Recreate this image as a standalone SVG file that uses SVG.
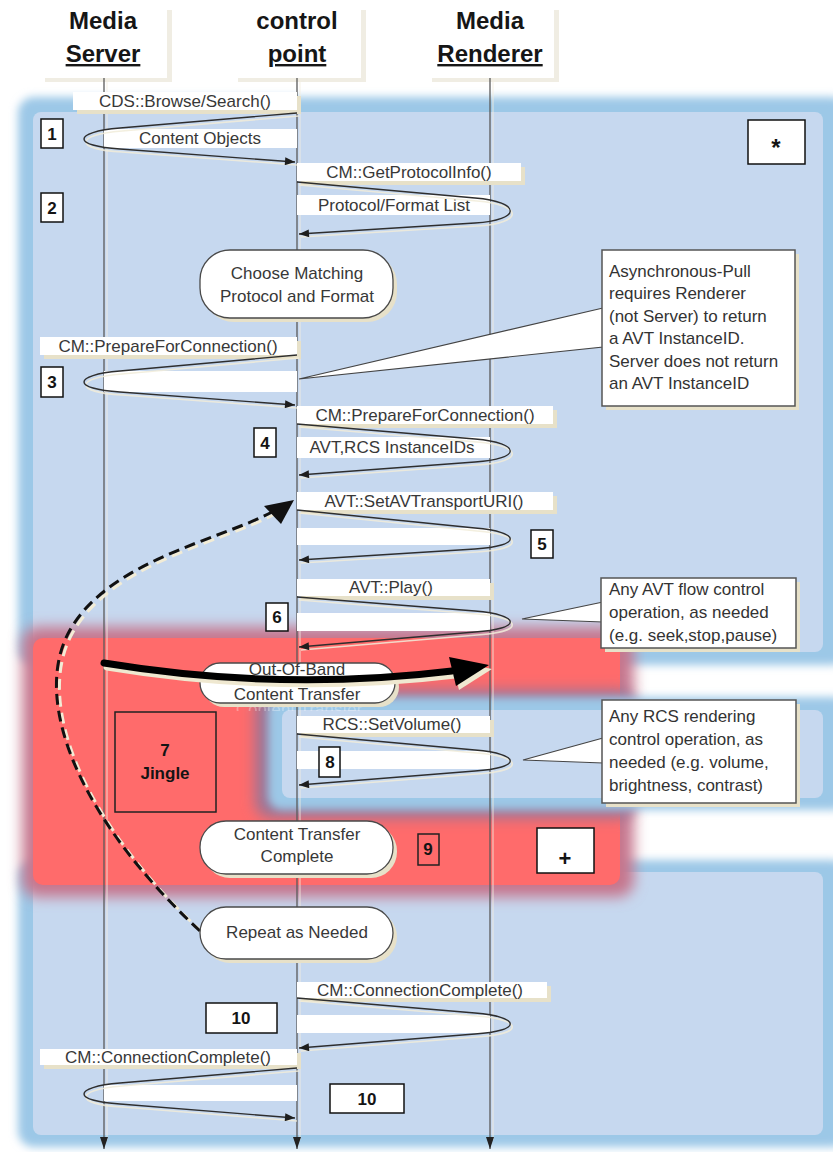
<svg xmlns="http://www.w3.org/2000/svg" width="833" height="1152" viewBox="0 0 833 1152">
  <style>
    .hdr { font-family: "Liberation Sans", Arial, sans-serif; font-size: 24px; font-weight: bold; fill: #161616; text-anchor: middle; }
    .lbl { font-family: "Liberation Sans", Arial, sans-serif; font-size: 17px; fill: #383838; text-anchor: middle; }
    .note { font-family: "Liberation Sans", Arial, sans-serif; font-size: 17px; fill: #333; }
    .num { font-family: "Liberation Sans", Arial, sans-serif; font-size: 17px; font-weight: bold; fill: #141414; text-anchor: middle; }
    .hbox { fill: #ffffff; }
    .hshd { fill: #f0ede3; }
    .lbox { fill: #ffffff; }
    .lshd { fill: #e7e1c9; }
    .nbox { fill: #ffffff; stroke: #111; stroke-width: 1.5; }
    .obox { fill: none; stroke: #222; stroke-width: 1.5; }
    .pill { fill: #ffffff; stroke: #4a4a4a; stroke-width: 1.3; }
    .note-box { fill: #ffffff; stroke: #555; stroke-width: 1.5; }
    .wedge { fill: #ffffff; stroke: #444; stroke-width: 1.2; stroke-linejoin: miter; }
    .life { stroke: #5a5a5a; stroke-width: 1.3; fill: none; }
    .life-shd { stroke: #f2ede0; stroke-width: 1.2; fill: none; opacity: 0.7; }
    .msg { stroke: #2e2e2e; stroke-width: 1.4; fill: none; }
    .msg-shd { stroke: #f1ecd9; stroke-width: 1.6; fill: none; opacity: 0.85; }
    .inner { fill: #c6d8ef; }
    .band { fill: #9cc8e7; }
  </style>
  <defs>
    <filter id="blur4" x="-20%" y="-20%" width="140%" height="140%">
      <feGaussianBlur stdDeviation="4"/>
    </filter>
    <filter id="blur7" x="-20%" y="-20%" width="140%" height="140%">
      <feGaussianBlur stdDeviation="7"/>
    </filter>
    <clipPath id="ghost-clip">
      <rect x="200" y="703" width="200" height="8"/>
    </clipPath>
    <marker id="ah" viewBox="0 0 10 8" refX="10" refY="4" markerWidth="11" markerHeight="8" markerUnits="userSpaceOnUse" orient="auto">
      <path d="M0,0 L10,4 L0,8 Z" fill="#1e1e1e"/>
    </marker>
    <marker id="lah" viewBox="0 0 12 8" refX="12" refY="4" markerWidth="12" markerHeight="8" markerUnits="userSpaceOnUse" orient="auto">
      <path d="M0,0 L12,4 L0,8 Z" fill="#222"/>
    </marker>
  </defs>

  <rect width="833" height="1152" fill="#ffffff"/>

  <!-- background panels -->
  <g id="panel-top">
    <rect class="band" x="18" y="97" width="830" height="568" rx="16" filter="url(#blur4)"/>
    <rect class="inner" x="33" y="112" width="790" height="540" rx="8"/>
  </g>
  <g id="panel-bottom">
    <rect class="band" x="18" y="860" width="830" height="287" rx="16" filter="url(#blur4)"/>
    <rect class="inner" x="33" y="872" width="790" height="263" rx="8"/>
  </g>
  <g id="panel-red">
    <rect x="22" y="627" width="612" height="270" rx="16" fill="#c6768d" filter="url(#blur7)"/>
    <rect x="33" y="638" width="587" height="247" rx="10" fill="#ff6b6b"/>
  </g>
  <g id="panel-middle">
    <rect x="255" y="690" width="380" height="128" rx="16" fill="#9a7596" filter="url(#blur7)"/>
    <rect class="band" x="268" y="697" width="580" height="113" rx="14" filter="url(#blur4)"/>
    <rect class="inner" x="282" y="710" width="541" height="88" rx="8"/>
  </g>

  <!-- lifeline headers -->
  <g id="hdr-server">
    <rect class="hshd" x="45" y="10" width="127" height="72"/>
    <rect class="hbox" x="40" y="6" width="127" height="72"/>
    <text class="hdr" x="103" y="29">Media</text>
    <text class="hdr" x="103" y="62" text-decoration="underline">Server</text>
  </g>
  <g id="hdr-control">
    <rect class="hshd" x="238" y="10" width="128" height="72"/>
    <rect class="hbox" x="233" y="6" width="128" height="72"/>
    <text class="hdr" x="297" y="29">control</text>
    <text class="hdr" x="297" y="62" text-decoration="underline">point</text>
  </g>
  <g id="hdr-renderer">
    <rect class="hshd" x="432" y="10" width="127" height="72"/>
    <rect class="hbox" x="427" y="6" width="127" height="72"/>
    <text class="hdr" x="490" y="29">Media</text>
    <text class="hdr" x="490" y="62" text-decoration="underline">Renderer</text>
  </g>

  <!-- lifelines -->
  <g id="lifelines">
    <line class="life-shd" x1="107" y1="80" x2="107" y2="1140"/>
    <line class="life-shd" x1="300" y1="80" x2="300" y2="1140"/>
    <line class="life-shd" x1="493" y1="80" x2="493" y2="1140"/>
    <line class="life" x1="104" y1="78" x2="104" y2="1149" marker-end="url(#lah)"/>
    <line class="life" x1="297" y1="78" x2="297" y2="1149" marker-end="url(#lah)"/>
    <line class="life" x1="490" y1="78" x2="490" y2="1149" marker-end="url(#lah)"/>
  </g>

  <!-- message label plates -->
  <g id="labels">
    <rect class="lshd" x="77" y="96" width="224" height="18"/>
    <rect class="lbox" x="73" y="92" width="224" height="18"/>
    <text class="lbl" x="185" y="107">CDS::Browse/Search()</text>

    <rect class="lbox" x="104" y="129" width="193" height="19"/>
    <text class="lbl" x="200" y="144">Content Objects</text>

    <rect class="lshd" x="301" y="167" width="224" height="18"/>
    <rect class="lbox" x="297" y="163" width="224" height="18"/>
    <text class="lbl" x="409" y="178">CM::GetProtocolInfo()</text>

    <rect class="lbox" x="297" y="195" width="193" height="20"/>
    <text class="lbl" x="394" y="211">Protocol/Format List</text>

    <rect class="lshd" x="44" y="341" width="257" height="18"/>
    <rect class="lbox" x="40" y="337" width="257" height="18"/>
    <text class="lbl" x="168" y="352">CM::PrepareForConnection()</text>

    <rect class="lbox" x="104" y="371" width="193" height="21"/>

    <rect class="lshd" x="301" y="410" width="256" height="18"/>
    <rect class="lbox" x="297" y="406" width="256" height="18"/>
    <text class="lbl" x="425" y="421">CM::PrepareForConnection()</text>

    <rect class="lbox" x="297" y="437" width="193" height="21"/>
    <text class="lbl" x="392" y="453">AVT,RCS InstanceIDs</text>

    <rect class="lshd" x="301" y="496" width="256" height="18"/>
    <rect class="lbox" x="297" y="492" width="256" height="18"/>
    <text class="lbl" x="424" y="507">AVT::SetAVTransportURI()</text>

    <rect class="lbox" x="297" y="528" width="193" height="17"/>

    <rect class="lshd" x="301" y="583" width="193" height="17"/>
    <rect class="lbox" x="297" y="579" width="193" height="17"/>
    <text class="lbl" x="391" y="593">AVT::Play()</text>

    <rect class="lbox" x="297" y="613" width="193" height="18"/>

    <rect class="lshd" x="301" y="720" width="193" height="17"/>
    <rect class="lbox" x="297" y="716" width="193" height="17"/>
    <text class="lbl" x="392" y="730">RCS::SetVolume()</text>

    <rect class="lbox" x="297" y="751" width="193" height="18"/>

    <rect class="lshd" x="301" y="986" width="250" height="16"/>
    <rect class="lbox" x="297" y="982" width="250" height="16"/>
    <text class="lbl" x="420" y="996">CM::ConnectionComplete()</text>

    <rect class="lbox" x="297" y="1015" width="193" height="18"/>

    <rect class="lshd" x="44" y="1053" width="257" height="16"/>
    <rect class="lbox" x="40" y="1049" width="257" height="16"/>
    <text class="lbl" x="168" y="1063">CM::ConnectionComplete()</text>

    <rect class="lbox" x="104" y="1085" width="193" height="16"/>
  </g>

  <!-- connectors -->
  <g id="connectors">
    <g transform="translate(2,3)">
      <path class="msg-shd" d="M297,113 L120,128 C72,132 72,146 120,149 L295,162"/>
      <path class="msg-shd" d="M297,182 L475,198 C522,202 522,220 475,223 L299,234"/>
      <path class="msg-shd" d="M297,355 L120,371 C72,375 72,389 120,392 L295,405"/>
      <path class="msg-shd" d="M297,424 L475,439 C522,443 522,459 475,462 L299,475"/>
      <path class="msg-shd" d="M297,510 L475,528 C522,532 522,546 475,549 L299,560"/>
      <path class="msg-shd" d="M297,597 L475,611 C522,615 522,629 475,632 L299,647"/>
      <path class="msg-shd" d="M297,734 L475,750 C522,754 522,768 475,771 L299,785"/>
      <path class="msg-shd" d="M297,998 L475,1013 C522,1017 522,1031 475,1034 L299,1048"/>
      <path class="msg-shd" d="M297,1068 L120,1083 C72,1087 72,1101 120,1104 L295,1118"/>
    </g>
    <path class="msg" d="M297,113 L120,128 C72,132 72,146 120,149 L295,162" marker-end="url(#ah)"/>
    <path class="msg" d="M297,182 L475,198 C522,202 522,220 475,223 L299,234" marker-end="url(#ah)"/>
    <path class="msg" d="M297,355 L120,371 C72,375 72,389 120,392 L295,405" marker-end="url(#ah)"/>
    <path class="msg" d="M297,424 L475,439 C522,443 522,459 475,462 L299,475" marker-end="url(#ah)"/>
    <path class="msg" d="M297,510 L475,528 C522,532 522,546 475,549 L299,560" marker-end="url(#ah)"/>
    <path class="msg" d="M297,597 L475,611 C522,615 522,629 475,632 L299,647" marker-end="url(#ah)"/>
    <path class="msg" d="M297,734 L475,750 C522,754 522,768 475,771 L299,785" marker-end="url(#ah)"/>
    <path class="msg" d="M297,998 L475,1013 C522,1017 522,1031 475,1034 L299,1048" marker-end="url(#ah)"/>
    <path class="msg" d="M297,1068 L120,1083 C72,1087 72,1101 120,1104 L295,1118" marker-end="url(#ah)"/>

    <!-- repeat loop (dashed) -->
    <path d="M200,931 C80,820 30,700 70,630 S220,540 272,512" transform="translate(3,2)" fill="none" stroke="#f2ecd6" stroke-width="3" stroke-dasharray="11,6"/>
    <path d="M200,931 C80,820 30,700 70,630 S220,540 272,512" fill="none" stroke="#111" stroke-width="3" stroke-dasharray="11,6"/>
    <polygon points="294,500 264,506 281,524" fill="#111"/>
  </g>

  <!-- out-of-band transfer -->
  <g id="oob">
    <text class="lbl" x="299" y="715" clip-path="url(#ghost-clip)" style="fill:#ffffff;opacity:0.3">Content Transfer</text>
    <rect x="204" y="667" width="195" height="40" rx="20" fill="#e7e1c9"/>
    <rect class="pill" x="200" y="663" width="195" height="40" rx="20"/>
    <text class="lbl" x="297" y="675">Out-Of-Band</text>
    <text class="lbl" x="297" y="700">Content Transfer</text>
    <path d="M104,663 Q280,692 452,671" transform="translate(3,4)" fill="none" stroke="#efe8d0" stroke-width="7" stroke-linecap="round"/>
    <polygon points="492,669 452,661 459,690" fill="#efe8d0"/>
    <path d="M104,663 Q280,692 452,671" fill="none" stroke="#000" stroke-width="7" stroke-linecap="round"/>
    <polygon points="489,665 449,657 456,686" fill="#000"/>
  </g>

  <!-- decision pills -->
  <g id="choose">
    <rect x="204" y="254" width="193" height="68" rx="30" fill="#e7e1c9"/>
    <rect class="pill" x="200" y="250" width="193" height="68" rx="30"/>
    <text class="lbl" x="297" y="279">Choose Matching</text>
    <text class="lbl" x="297" y="302">Protocol and Format</text>
  </g>
  <g id="complete">
    <rect x="204" y="825" width="193" height="53" rx="26" fill="#e7e1c9"/>
    <rect class="pill" x="200" y="821" width="193" height="53" rx="26"/>
    <text class="lbl" x="297" y="840">Content Transfer</text>
    <text class="lbl" x="297" y="862">Complete</text>
  </g>
  <g id="repeat">
    <rect x="204" y="911" width="193" height="52" rx="26" fill="#e7e1c9"/>
    <rect class="pill" x="200" y="907" width="193" height="52" rx="26"/>
    <text class="lbl" x="297" y="938">Repeat as Needed</text>
  </g>

  <!-- callout notes -->
  <g id="note-async">
    <rect x="606" y="254" width="193" height="156" fill="#e7e1c9"/>
    <polygon class="wedge" points="603,308 299,379 603,347"/>
    <rect class="note-box" x="602" y="250" width="193" height="156"/>
    <text class="note" x="609" y="277">Asynchronous-Pull</text>
    <text class="note" x="609" y="299">requires Renderer</text>
    <text class="note" x="609" y="322">(not Server) to return</text>
    <text class="note" x="609" y="344">a AVT InstanceID.</text>
    <text class="note" x="609" y="367">Server does not return</text>
    <text class="note" x="609" y="389">an AVT InstanceID</text>
  </g>
  <g id="note-avt">
    <rect x="605" y="582" width="195" height="70" fill="#e7e1c9"/>
    <polygon class="wedge" points="603,602 522,619 603,622"/>
    <rect class="note-box" x="601" y="578" width="195" height="70"/>
    <text class="note" x="609" y="595">Any AVT flow control</text>
    <text class="note" x="609" y="618">operation, as needed</text>
    <text class="note" x="609" y="641">(e.g. seek,stop,pause)</text>
  </g>
  <g id="note-rcs">
    <rect x="606" y="704" width="194" height="103" fill="#e7e1c9"/>
    <polygon class="wedge" points="603,738 523,760 603,763"/>
    <rect class="note-box" x="602" y="700" width="194" height="103"/>
    <text class="note" x="609" y="722">Any RCS rendering</text>
    <text class="note" x="609" y="745">control operation, as</text>
    <text class="note" x="609" y="768">needed (e.g. volume,</text>
    <text class="note" x="609" y="791">brightness, contrast)</text>
  </g>

  <!-- step markers -->
  <g id="step-1"><rect class="nbox" x="41" y="119" width="22" height="29"/><text class="num" x="52" y="140">1</text></g>
  <g id="step-2"><rect class="nbox" x="41" y="193" width="22" height="29"/><text class="num" x="52" y="214">2</text></g>
  <g id="step-3"><rect class="nbox" x="41" y="367" width="22" height="30"/><text class="num" x="52" y="388">3</text></g>
  <g id="step-4"><rect class="nbox" x="254" y="428" width="22" height="29"/><text class="num" x="265" y="449">4</text></g>
  <g id="step-5"><rect class="nbox" x="531" y="530" width="22" height="28"/><text class="num" x="542" y="550">5</text></g>
  <g id="step-6"><rect class="nbox" x="266" y="603" width="22" height="28"/><text class="num" x="277" y="623">6</text></g>
  <g id="step-7"><rect class="obox" x="115" y="712" width="101" height="100"/><text class="num" x="165" y="756">7</text><text class="num" x="165" y="779">Jingle</text></g>
  <g id="step-8"><rect class="nbox" x="319" y="747" width="21" height="30"/><text class="num" x="330" y="768">8</text></g>
  <g id="step-9"><rect class="obox" x="418" y="834" width="21" height="31"/><text class="num" x="428" y="855">9</text></g>
  <g id="step-10a"><rect class="nbox" x="206" y="1003" width="71" height="30"/><text class="num" x="241" y="1024">10</text></g>
  <g id="step-10b"><rect class="nbox" x="330" y="1084" width="74" height="29"/><text class="num" x="367" y="1105">10</text></g>
  <g id="mark-star"><rect class="nbox" x="748" y="120" width="57" height="44"/><text class="num" x="776" y="156" style="font-size:24px">*</text></g>
  <g id="mark-plus"><rect class="nbox" x="537" y="828" width="57" height="45"/><text class="num" x="565" y="866" style="font-size:22px">+</text></g>
</svg>
